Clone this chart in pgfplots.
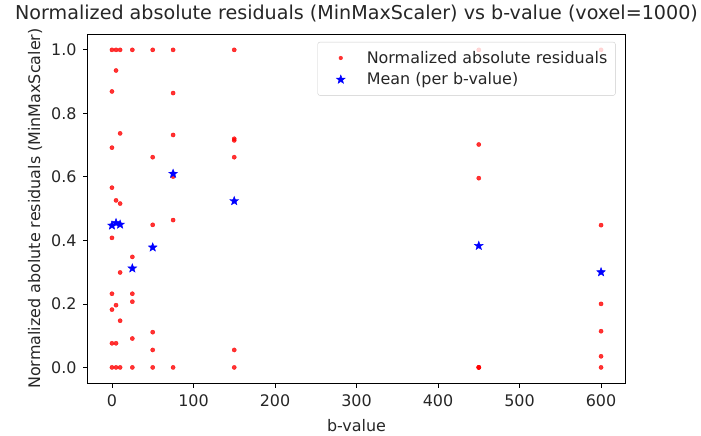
\documentclass[border=0pt]{standalone}
\usepackage{pgfplots}
\pgfplotsset{compat=1.18}
\usepackage{fontspec}
\setmainfont{DejaVu Sans}
\pgfdeclareplotmark{fstar}{%
  \pgfpathmoveto{\pgfpointpolar{90}{\pgfplotmarksize}}%
  \pgfpathlineto{\pgfpointpolar{126}{0.42*\pgfplotmarksize}}%
  \pgfpathlineto{\pgfpointpolar{162}{\pgfplotmarksize}}%
  \pgfpathlineto{\pgfpointpolar{198}{0.42*\pgfplotmarksize}}%
  \pgfpathlineto{\pgfpointpolar{234}{\pgfplotmarksize}}%
  \pgfpathlineto{\pgfpointpolar{270}{0.42*\pgfplotmarksize}}%
  \pgfpathlineto{\pgfpointpolar{306}{\pgfplotmarksize}}%
  \pgfpathlineto{\pgfpointpolar{342}{0.42*\pgfplotmarksize}}%
  \pgfpathlineto{\pgfpointpolar{18}{\pgfplotmarksize}}%
  \pgfpathlineto{\pgfpointpolar{54}{0.42*\pgfplotmarksize}}%
  \pgfpathclose
  \pgfusepathqfillstroke
}
\pgfplotstableread{
b r
0 1.0
0 0.869
0 0.692
0 0.566
0 0.408
0 0.232
0 0.182
0 0.076
0 0
5 1.0
5 0.935
5 0.526
5 0.196
5 0.076
5 0
10 1.0
10 0.737
10 0.516
10 0.299
10 0.147
10 0
25 1.0
25 0.348
25 0.232
25 0.207
25 0.091
25 0
50 1.0
50 0.662
50 0.449
50 0.111
50 0.055
50 0
75 1.0
75 0.864
75 0.732
75 0.601
75 0.464
75 0
150 1.0
150 0.720
150 0.715
150 0.662
150 0.055
150 0
450 1.0
450 0.702
450 0.596
450 0
450 0
450 0
600 1.0
600 0.448
600 0.200
600 0.114
600 0.035
600 0
}\residuals
\pgfplotstableread{
b m
0 0.447
5 0.455
10 0.450
25 0.312
50 0.378
75 0.610
150 0.524
450 0.383
600 0.300
}\means
\begin{document}
\begin{tikzpicture}[x=1bp,y=1bp]
\useasboundingbox (0,0) rectangle (701,436);
\begin{axis}[
  at={(87.5bp,52.7bp)}, anchor=south west,
  scale only axis, width=538bp, height=349.3bp,
  xmin=-30, xmax=630, ymin=-0.05, ymax=1.05,
  xtick={0,100,...,600},
  ytick={0,0.2,...,1.0},
  yticklabel style={xshift=-3bp, /pgf/number format/fixed, /pgf/number format/fixed zerofill, /pgf/number format/precision=1},
  /pgf/number format/assume math mode=true,
  tick align=outside, xtick pos=left, ytick pos=left,
  major tick length=4.5bp,
  tick style={black, line width=0.8bp},
  axis line style={line width=0.8bp},
  ticklabel style={font=\fontsize{16}{19}\selectfont, text=black!85},
  xticklabel style={yshift=-3bp},
  title={Normalized absolute residuals (MinMaxScaler) vs b-value (voxel=1000)},
  title style={font=\fontsize{19.2}{23}\selectfont, text=black!85, at={(axis description cs:0.5,1)}, anchor=base, yshift=9bp},
  xlabel={b-value},
  xlabel style={font=\fontsize{16}{19}\selectfont, text=black!85, at={(axis description cs:0.5,0)}, anchor=base, yshift=-48.7bp},
  ylabel={Normalized abolute residuals (MinMaxScaler)},
  ylabel style={font=\fontsize{16}{19}\selectfont, text=black!85, at={(axis description cs:0,0.5)}, anchor=base, yshift=47.5bp},
  legend cell align=left,
  legend style={at={(axis description cs:1,1)}, anchor=north east, xshift=-10bp, yshift=-8bp,
    font=\fontsize{16}{19}\selectfont, text=black!85, draw=black!20, rounded corners=2bp,
    fill=white, fill opacity=0.8, text opacity=1, inner xsep=6bp, inner ysep=7bp,
    row sep=4bp},
]
\addplot[only marks, mark=*, mark size=2.1bp, color=red, opacity=0.8, forget plot] table[x=b, y=r] {\residuals};
\addplot[only marks, mark=fstar, mark size=4.6bp, color=blue, mark options={draw=blue, fill=blue, line width=0.4bp}, forget plot] table[x=b, y=m] {\means};
\addlegendimage{legend image code/.code={\path[draw=none, fill=none] (0bp,-4bp) rectangle (41bp,4bp); \fill[draw=none, red, fill opacity=0.8] (17bp,0bp) circle[radius=2.1bp];}}
\addlegendentry{Normalized absolute residuals}
\addlegendimage{legend image code/.code={\path[draw=none, fill=none] (0bp,-4bp) rectangle (41bp,4bp); \draw[blue, fill=blue, fill opacity=1, line width=0.4bp] plot[only marks, mark=fstar, mark size=4.6bp] coordinates {(17bp,0bp)};}}
\addlegendentry{Mean (per b-value)}
\end{axis}
\end{tikzpicture}
\end{document}
